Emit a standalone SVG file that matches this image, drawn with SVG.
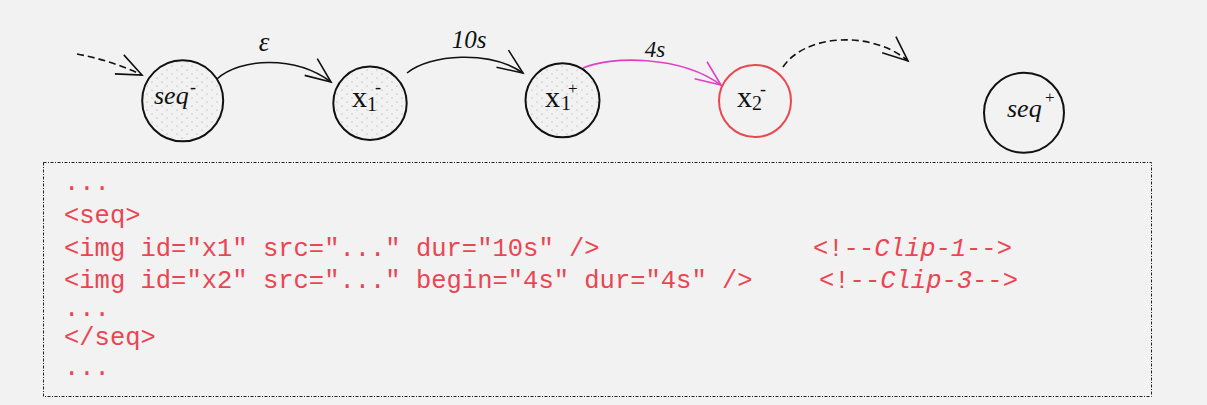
<svg xmlns="http://www.w3.org/2000/svg" width="1207" height="405" viewBox="0 0 1207 405">
<style>
.node{stroke:#111;stroke-width:2;fill:none}
.lbl{font-family:"Liberation Serif","DejaVu Serif",serif;fill:#111}
.it{font-style:italic}
.code{font-family:"Liberation Mono","DejaVu Sans Mono",monospace;font-size:25.5px;fill:#e94652}
.edge{fill:none;stroke:#111;stroke-width:1.6}
.dash{stroke-dasharray:7 4}
.mag{stroke:#e23fc6}
</style>
<defs>
<pattern id="dots" width="10" height="8" patternUnits="userSpaceOnUse">
<circle cx="2" cy="2" r="0.6" fill="#999"/>
<circle cx="7" cy="6" r="0.6" fill="#999"/>
</pattern>
<marker id="ah" viewBox="-27 -12 29 24" refX="0" refY="0" markerWidth="29" markerHeight="24" markerUnits="userSpaceOnUse" orient="auto" overflow="visible">
<path d="M-25,-10.5 L0,0 L-25,10.5" fill="none" stroke="#111" stroke-width="1.6"/>
</marker>
<marker id="ahm" viewBox="-27 -12 29 24" refX="0" refY="0" markerWidth="29" markerHeight="24" markerUnits="userSpaceOnUse" orient="auto" overflow="visible">
<path d="M-25,-10.5 L0,0 L-25,10.5" fill="none" stroke="#e23fc6" stroke-width="1.6"/>
</marker>
</defs>
<rect x="0" y="0" width="1207" height="405" fill="#f2f2f2"/>

<g id="connectors">
<path class="edge dash" d="M77,54 Q110,60 142,75" marker-end="url(#ah)"/>
<path class="edge" d="M217,79 C240,58 295,55 331,82" marker-end="url(#ah)"/>
<path class="edge" d="M407,73 C430,54 490,50 523,73" marker-end="url(#ah)"/>
<path class="edge mag" d="M583,68 C610,56 680,55 721,85" marker-end="url(#ahm)"/>
<path class="edge dash" d="M783,67 C805,34 872,30 908,61" marker-end="url(#ah)"/>
<text class="lbl it" x="264" y="51" font-size="27" text-anchor="middle">ε</text>
<text class="lbl it" x="469" y="48" font-size="25" text-anchor="middle">10s</text>
<text class="lbl it" x="655" y="57" font-size="23" text-anchor="middle">4s</text>
</g>

<g id="seq-minus">
<circle cx="182.7" cy="100.8" r="39" fill="url(#dots)"/>
<circle class="node" cx="182.7" cy="100.8" r="40.5"/>
<text class="lbl it" x="154" y="104" font-size="26">seq</text>
<text class="lbl" x="190" y="93" font-size="18">-</text>
</g>

<g id="x1-minus">
<circle cx="370" cy="103.3" r="35" fill="url(#dots)"/>
<circle class="node" cx="370" cy="103.3" r="36.7"/>
<text class="lbl" x="352" y="107" font-size="30">x</text>
<text class="lbl" x="367" y="111" font-size="20">1</text>
<text class="lbl" x="375" y="93" font-size="18">-</text>
</g>

<g id="x1-plus">
<circle cx="562.5" cy="100.3" r="35.5" fill="url(#dots)"/>
<circle class="node" cx="562.5" cy="100.3" r="37"/>
<text class="lbl" x="545" y="106.5" font-size="30">x</text>
<text class="lbl" x="561" y="110" font-size="20">1</text>
<text class="lbl" x="568" y="94" font-size="17">+</text>
</g>

<g id="x2-minus">
<circle cx="755" cy="101" r="36" fill="none" stroke="#e84850" stroke-width="2"/>
<text class="lbl" x="737" y="106.5" font-size="30">x</text>
<text class="lbl" x="752" y="110" font-size="20">2</text>
<text class="lbl" x="760" y="95" font-size="18">-</text>
</g>

<g id="seq-plus">
<circle class="node" cx="1024" cy="112.8" r="40"/>
<text class="lbl it" x="1007" y="117" font-size="26">seq</text>
<text class="lbl" x="1045" y="103" font-size="17">+</text>
</g>

<g id="code">
<rect x="43.5" y="162.5" width="1108" height="234" fill="none" stroke="#222" stroke-width="1" stroke-dasharray="3 1.5 1 1.5"/>
<text class="code" x="64" y="190">...</text>
<text class="code" x="64" y="223">&lt;seq&gt;</text>
<text class="code" x="64" y="256" xml:space="preserve">&lt;img id="x1" src="..." dur="10s" /&gt;</text>
<text class="code" x="64" y="288" xml:space="preserve">&lt;img id="x2" src="..." begin="4s" dur="4s" /&gt;</text>
<text class="code" x="64" y="316">...</text>
<text class="code" x="64" y="345">&lt;/seq&gt;</text>
<text class="code" x="64" y="375">...</text>
<text class="code" x="813" y="256">&lt;!--<tspan font-style="italic">Clip-1</tspan>--&gt;</text>
<text class="code" x="819" y="288">&lt;!--<tspan font-style="italic">Clip-3</tspan>--&gt;</text>
</g>
</svg>
